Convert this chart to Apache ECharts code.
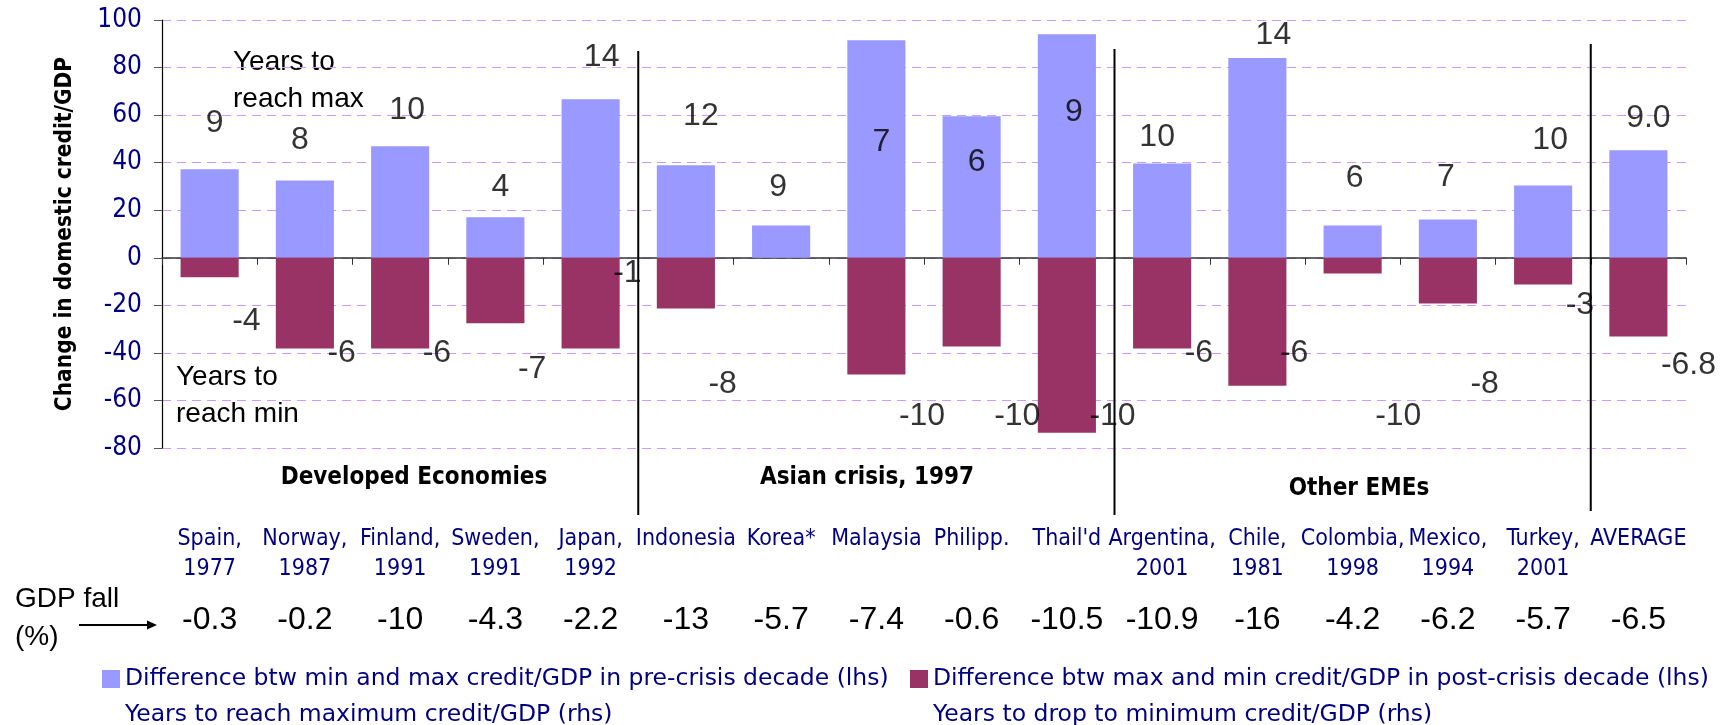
<!DOCTYPE html>
<html>
<head>
<meta charset="utf-8">
<script src="https://cdn.jsdelivr.net/npm/echarts@6/dist/echarts.min.js"></script>
<style>
html, body { margin: 0; padding: 0; background: #fff; }
#chart { width: 1720px; height: 725px; }
</style>
</head>
<body>
<div id="chart"></div>
<script>
// data
const countries = ['Spain,\n1977', 'Norway,\n1987', 'Finland,\n1991', 'Sweden,\n1991', 'Japan,\n1992', 'Indonesia', 'Korea*', 'Malaysia', 'Philipp.', "Thail'd", 'Argentina,\n2001', 'Chile,\n1981', 'Colombia,\n1998', 'Mexico,\n1994', 'Turkey,\n2001', 'AVERAGE']
const preCrisis = [37.2, 32.5, 46.9, 17.0, 66.7, 38.9, 13.6, 91.5, 59.5, 94.0, 39.7, 84.0, 13.6, 16.1, 30.4, 45.2]
const postCrisis = [-8.2, -38.2, -38.2, -27.5, -38.2, -21.3, null, -49.1, -37.3, -73.6, -38.2, -53.8, -6.6, -19.2, -11.2, -33.1]
const yearsToMax = [9, 8, 10, 4, 14, 12, 9, 7, 6, 9, 10, 14, 6, 7, 10, 9.0]
const yearsToMin = [-4, -6, -6, -7, -1, -8, null, -10, -10, -10, -6, -6, -10, -8, -3, -6.8]
const gdpFall = ['-0.3', '-0.2', '-10', '-4.3', '-2.2', '-13', '-5.7', '-7.4', '-0.6', '-10.5', '-10.9', '-16', '-4.2', '-6.2', '-5.7', '-6.5']
const groups = ['Developed Economies', 'Asian crisis, 1997', 'Other EMEs']
const seriesNames = [
  'Difference btw min and max credit/GDP in pre-crisis decade (lhs)',
  'Difference btw max and min credit/GDP in post-crisis decade (lhs)',
  'Years to reach maximum credit/GDP (rhs)',
  'Years to drop to minimum credit/GDP (rhs)'
]

// hand-placed label nudges (layout only), [dx, dy] in px
const maxLabelNudge = [[5, 8], [-5, 9], [7, 11], [5, -7], [11, 21], [15, 49], [-3, 72], [5, -5], [5, 0], [7, -3], [-5, 38], [16, -1], [2, 16], [-2, 30], [7, 41], [10, 3]]

const COND = "'DejaVu Sans Condensed', 'DejaVu Sans', sans-serif"
const SANS = "'DejaVu Sans', sans-serif"
const ARIAL = "'Liberation Sans', Arial, sans-serif"
const NAVY = '#000080'
const AVG = countries.length - 1

const fmtYears = (v, i) => (i === AVG ? v.toFixed(1) : String(v))

const legendAt = (name, left, top, hideIcon) => ({
  left: left,
  top: top,
  icon: 'rect',
  itemWidth: 18,
  itemHeight: 18,
  selectedMode: false,
  padding: 0,
  textStyle: { color: NAVY, fontFamily: SANS, fontSize: 23.5, lineHeight: 18 },
  data: [hideIcon ? { name: name, itemStyle: { opacity: 0 } } : { name: name }]
})

const chart = echarts.init(document.getElementById('chart'))

const option = {
  animation: false,
  backgroundColor: '#fff',
  grid: { left: 162, right: 34, top: 20, bottom: 277 },
  legend: [
    legendAt(seriesNames[0], 102, 667, false),
    legendAt(seriesNames[2], 102, 703, true),
    legendAt(seriesNames[1], 910, 667, false),
    legendAt(seriesNames[3], 910, 703, true)
  ],
  xAxis: [{
    type: 'category',
    data: countries,
    axisLine: { onZero: true, lineStyle: { color: '#333', width: 1.5 } },
    axisTick: { show: true, interval: 0, length: 7, lineStyle: { color: '#333' } },
    axisLabel: { show: false }
  }, {
    type: 'category',
    data: countries,
    position: 'bottom',
    axisLine: { show: false, onZero: false },
    axisTick: { show: false },
    axisLabel: {
      interval: 0,
      margin: 76,
      verticalAlign: 'top',
      color: NAVY,
      fontFamily: COND,
      fontSize: 23,
      lineHeight: 30
    }
  }, {
    type: 'category',
    data: gdpFall,
    position: 'bottom',
    axisLine: { show: false, onZero: false },
    axisTick: { show: false },
    axisLabel: {
      interval: 0,
      margin: 156,
      verticalAlign: 'top',
      color: '#000',
      fontFamily: ARIAL,
      fontSize: 32,
      lineHeight: 32
    }
  }],
  yAxis: [{
    type: 'value',
    min: -80,
    max: 100,
    interval: 20,
    name: 'Change in domestic credit/GDP',
    nameLocation: 'middle',
    nameGap: 85,
    nameTextStyle: { color: '#000', fontWeight: 'bold', fontSize: 22.5, fontFamily: COND },
    axisLine: { show: true, lineStyle: { color: '#000', width: 1.2 } },
    axisTick: { show: true, length: 8, lineStyle: { color: '#555' } },
    axisLabel: { color: NAVY, fontSize: 26, fontFamily: COND, margin: 20 },
    splitLine: { lineStyle: { color: '#cc99ff', type: [9, 6], width: 1 } }
  }, {
    type: 'value',
    min: -12,
    max: 15,
    show: false,
    splitLine: { show: false }
  }],
  series: [{
    name: seriesNames[0],
    type: 'bar',
    data: preCrisis,
    barWidth: '61%',
    barGap: '-100%',
    itemStyle: { color: '#9999ff' }
  }, {
    name: seriesNames[1],
    type: 'bar',
    data: postCrisis,
    barWidth: '61%',
    itemStyle: { color: '#993366' }
  }, {
    name: seriesNames[2],
    type: 'scatter',
    yAxisIndex: 1,
    symbolSize: 1,
    itemStyle: { color: 'rgba(0,0,0,0)' },
    z: 5,
    data: yearsToMax.map((v, i) => ({
      value: v,
      label: { offset: maxLabelNudge[i] }
    })),
    label: {
      show: true,
      position: 'inside',
      color: '#000',
      fontFamily: ARIAL,
      fontSize: 32,
      formatter: p => fmtYears(p.value, p.dataIndex)
    }
  }, {
    name: seriesNames[3],
    type: 'scatter',
    yAxisIndex: 1,
    symbolSize: 1,
    itemStyle: { color: 'rgba(0,0,0,0)' },
    z: 5,
    data: yearsToMin,
    label: {
      show: true,
      position: 'right',
      distance: 22,
      color: '#000',
      fontFamily: ARIAL,
      fontSize: 32,
      formatter: p => fmtYears(p.value, p.dataIndex)
    }
  }],
  graphic: [
    { id: 'maxNote', type: 'text', left: 233, top: 44, style: { text: 'Years to\nreach max', fill: '#000', font: '28px ' + ARIAL, lineHeight: 37 } },
    { id: 'minNote', type: 'text', left: 176, top: 359, style: { text: 'Years to\nreach min', fill: '#000', font: '28px ' + ARIAL, lineHeight: 37 } },
    { id: 'g0', type: 'text', x: 414, y: 478, style: { text: groups[0], fill: '#000', font: 'bold 24px ' + COND, align: 'center', verticalAlign: 'middle' } },
    { id: 'g1', type: 'text', x: 867, y: 478, style: { text: groups[1], fill: '#000', font: 'bold 24px ' + COND, align: 'center', verticalAlign: 'middle' } },
    { id: 'g2', type: 'text', x: 1359, y: 489, style: { text: groups[2], fill: '#000', font: 'bold 24px ' + COND, align: 'center', verticalAlign: 'middle' } },
    { id: 'gdp1', type: 'text', x: 15, y: 599, style: { text: 'GDP fall', fill: '#000', font: '28px ' + ARIAL, verticalAlign: 'middle' } },
    { id: 'gdp2', type: 'text', x: 15, y: 637, style: { text: '(%)', fill: '#000', font: '28px ' + ARIAL, verticalAlign: 'middle' } },
    { id: 'arrowLine', type: 'line', shape: { x1: 79, y1: 625, x2: 150, y2: 625 }, style: { stroke: '#000', lineWidth: 2 } },
    { id: 'arrowHead', type: 'polygon', shape: { points: [[157, 625], [147, 620.5], [147, 629.5]] }, style: { fill: '#000' } }
  ]
}

chart.setOption(option)

// group separators at category boundaries, placed through the axis scale
const sepAfter = [4, 9, 14]
const sepTop = [51, 49, 44]
const sepBottom = [515, 515, 511]
chart.setOption({
  graphic: sepAfter.map((idx, k) => {
    const x = (chart.convertToPixel({ xAxisIndex: 0 }, idx) + chart.convertToPixel({ xAxisIndex: 0 }, idx + 1)) / 2
    return { id: 'sep' + k, type: 'line', shape: { x1: x, y1: sepTop[k], x2: x, y2: sepBottom[k] }, style: { stroke: '#000', lineWidth: 2 }, z: 10 }
  })
})
</script>
</body>
</html>
